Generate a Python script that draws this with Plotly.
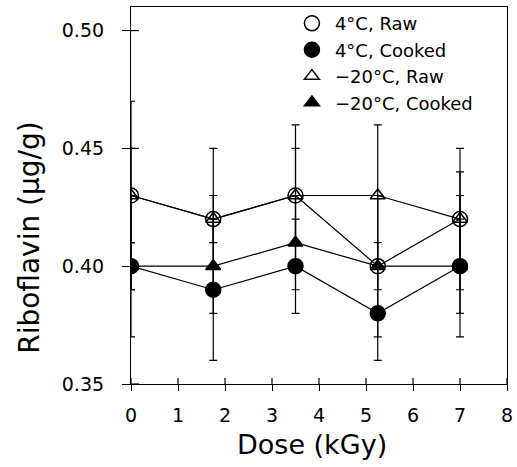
import plotly.graph_objects as go

dose = [0, 1.75, 3.5, 5.25, 7]

raw_4 = [0.43, 0.42, 0.43, 0.40, 0.42]
raw_4_err = [0.04, 0.03, 0.03, 0.01, 0.03]
cooked_4 = [0.40, 0.39, 0.40, 0.38, 0.40]
cooked_4_err = [0.03, 0.03, 0.02, 0.02, 0.03]
raw_20 = [0.43, 0.42, 0.43, 0.43, 0.42]
raw_20_err = [0.02, 0.01, 0.02, 0.03, 0.02]
cooked_20 = [0.40, 0.40, 0.41, 0.40, 0.40]
cooked_20_err = [0.01, 0.02, 0.02, 0.03, 0.02]

x_ticks = [0, 1, 2, 3, 4, 5, 6, 7, 8]
y_ticks = [0.35, 0.40, 0.45, 0.50]
y_ticklabels = ["0.35", "0.40", "0.45", "0.50"]
x_range = [0, 8]
y_range = [0.35, 0.51]

names = ["4°C, Raw", "4°C, Cooked", "\u221220°C, Raw", "\u221220°C, Cooked"]
series = [raw_4, cooked_4, raw_20, cooked_20]
errs = [raw_4_err, cooked_4_err, raw_20_err, cooked_20_err]
symbols = ["circle-open", "circle", "triangle-up-open", "triangle-up"]
sizes = [15, 15, 13, 13]

FONT = "DejaVu Sans, Verdana, sans-serif"
fig = go.Figure()

# lines + error bars
for y, e in zip(series, errs):
    fig.add_trace(go.Scatter(
        x=dose, y=y, mode="lines", showlegend=False,
        line=dict(color="black", width=1.2),
        error_y=dict(type="data", array=e, visible=True, color="black",
                     thickness=1.2, width=4),
    ))
# markers
for y, s, sz in zip(series, symbols, sizes):
    fig.add_trace(go.Scatter(
        x=dose, y=y, mode="markers", showlegend=False,
        marker=dict(symbol=s, size=sz, color="black",
                    line=dict(color="black", width=1.5)),
    ))
# legend entries
for n, s, sz in zip(names, symbols, sizes):
    fig.add_trace(go.Scatter(
        x=[None], y=[None], mode="markers", name=n,
        marker=dict(symbol=s, size=sz, color="black",
                    line=dict(color="black", width=1.5)),
    ))

# inner halves of the crossing axis ticks (derived from the tick lists)
shapes = []
for t in x_ticks:
    shapes.append(dict(type="line", xref="x", yref="y", x0=t, x1=t,
                       ysizemode="pixel", yanchor=y_range[0], y0=0, y1=6,
                       line=dict(color="black", width=1.2), layer="above"))
for t in y_ticks:
    shapes.append(dict(type="line", yref="y", xref="x", y0=t, y1=t,
                       xsizemode="pixel", xanchor=x_range[0], x0=0, x1=8,
                       line=dict(color="black", width=1.2), layer="above"))

fig.update_layout(
    width=517, height=467,
    margin=dict(l=131, r=10, t=5, b=83),
    paper_bgcolor="white", plot_bgcolor="white",
    font=dict(family=FONT, color="black", size=18),
    showlegend=True,
    legend=dict(x=0.42, y=1.005, xanchor="left", yanchor="top",
                bgcolor="rgba(0,0,0,0)", borderwidth=0,
                font=dict(size=18, family=FONT), itemsizing="trace",
                itemwidth=36, tracegroupgap=0),
    xaxis=dict(range=x_range, tickvals=x_ticks, automargin=False,
               showline=True, linecolor="black", linewidth=1.2, mirror=True,
               ticks="outside", ticklen=6, tickwidth=1.2, tickcolor="black",
               showgrid=False, zeroline=False, ticklabelstandoff=8,
               tickfont=dict(size=19)),
    yaxis=dict(range=y_range, tickvals=y_ticks, ticktext=y_ticklabels,
               automargin=False,
               showline=True, linecolor="black", linewidth=1.2, mirror=True,
               ticks="outside", ticklen=8, tickwidth=1.2, tickcolor="black",
               showgrid=False, zeroline=False, ticklabelstandoff=14,
               tickfont=dict(size=19)),
    shapes=shapes,
    annotations=[
        dict(text="Dose (kGy)", xref="paper", yref="paper",
             x=0.481, y=-0.161, xanchor="center", yanchor="middle",
             showarrow=False, font=dict(size=27, family=FONT)),
        dict(text="Riboflavin (\u03bcg/g)", xref="paper", yref="paper",
             x=-0.269, y=0.39, xanchor="center", yanchor="middle",
             textangle=-90, showarrow=False, font=dict(size=28, family=FONT)),
    ],
)

fig.write_html("out.html", config={"displayModeBar": False},
               post_script="document.body.style.margin='0px';")
